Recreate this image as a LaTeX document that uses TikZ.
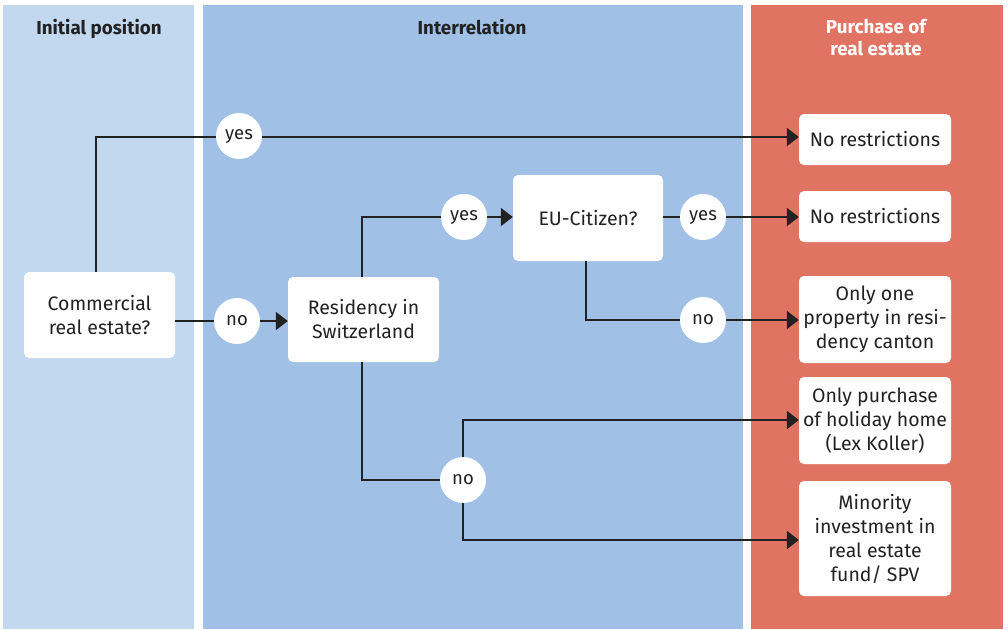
\documentclass[tikz,border=0pt]{standalone}
\usepackage{fontspec}
\setmainfont{Fira Sans}
\usetikzlibrary{arrows.meta}
\definecolor{lightpanel}{HTML}{C2D8EF}
\definecolor{midpanel}{HTML}{A0C0E5}
\definecolor{redpanel}{HTML}{E07362}
\definecolor{ink}{HTML}{222222}
\tikzset{
  box/.style={fill=white, rounded corners=5pt, draw=none, align=center, text=ink,
    font=\fontsize{19.5}{24}\selectfont, inner sep=0pt},
  bubble/.style={circle, fill=white, minimum size=46pt, inner sep=0pt, text=ink,
    font=\fontsize{18.5}{20}\selectfont},
  conn/.style={draw=ink, line width=2.2pt},
  arr/.style={conn, -{Triangle[length=12pt,width=18pt]}},
  head/.style={font=\bfseries\fontsize{18.8}{22}\selectfont, align=center, anchor=base}
}
\begin{document}
\begin{tikzpicture}[x=1pt,y=-1pt]
\useasboundingbox (0,0) rectangle (1008,629);
\fill[white] (0,0) rectangle (1008,629);
% panels
\fill[lightpanel] (3,5) rectangle (194,629);
\fill[midpanel] (203,5) rectangle (743,629);
\fill[redpanel] (751,5) rectangle (1003,629);
\node[head, text=ink] (h1) at (99,34) {Initial position};
\node[head, text=ink] (h2) at (472,34) {Interrelation};
\node[head, text=white, anchor=center] (h3) at (876,38) {Purchase of\\real estate};
% boxes
\node[box, minimum width=151pt, minimum height=86pt] (comm) at (99.5,315) {Commercial\\real estate?};
\node[box, minimum width=151pt, minimum height=85pt] (res) at (363.5,319.5) {Residency in\\Switzerland};
\node[box, minimum width=150pt, minimum height=86pt] (eu) at (588,218) {EU-Citizen?};
\node[box, minimum width=152pt, minimum height=51pt] (r1) at (875,139.5) {No restrictions};
\node[box, minimum width=152pt, minimum height=51pt] (r2) at (875,216.5) {No restrictions};
\node[box, minimum width=152pt, minimum height=87pt] (r3) at (875,319.5) {Only one\\property in resi-\\dency canton};
\node[box, minimum width=152pt, minimum height=87pt] (r4) at (875,420.5) {Only purchase\\of holiday home\\(Lex Koller)};
\node[box, minimum width=152pt, minimum height=115pt] (r5) at (875,538.5) {Minority\\investment in\\real estate\\fund/ SPV};
% coordinates
\coordinate (c1) at (96,137);
\coordinate (c2) at (362,217);
\coordinate (c3) at (586,320);
\coordinate (c4) at (362,480);
\coordinate (c5) at (463,420);
\coordinate (c6) at (463,540);
% connectors
\draw[arr] (comm.north -| c1) -- (c1) -- (c1 -| r1.west);
\draw[arr] (comm.east |- 0,321) -- (res.west |- 0,321);
\draw[arr] (res.north -| c2) -- (c2) -- (c2 -| eu.west);
\draw[arr] (eu.east |- c2) -- (c2 -| r2.west);
\draw[arr] (eu.south -| c3) -- (c3) -- (c3 -| r3.west);
\draw[conn] (res.south -| c4) -- (c4) -- (c4 -| c5);
\draw[arr] (c4 -| c5) -- (c5) -- (c5 -| r4.west);
\draw[arr] (c4 -| c5) -- (c6) -- (c6 -| r5.west);
% bubbles
\node[bubble] (b1) at (239,136) {yes};
\node[bubble] (b2) at (237,321) {no};
\node[bubble] (b3) at (464,217) {yes};
\node[bubble] (b4) at (703,217) {yes};
\node[bubble] (b5) at (703,320) {no};
\node[bubble] (b6) at (463,480) {no};
\end{tikzpicture}
\end{document}
